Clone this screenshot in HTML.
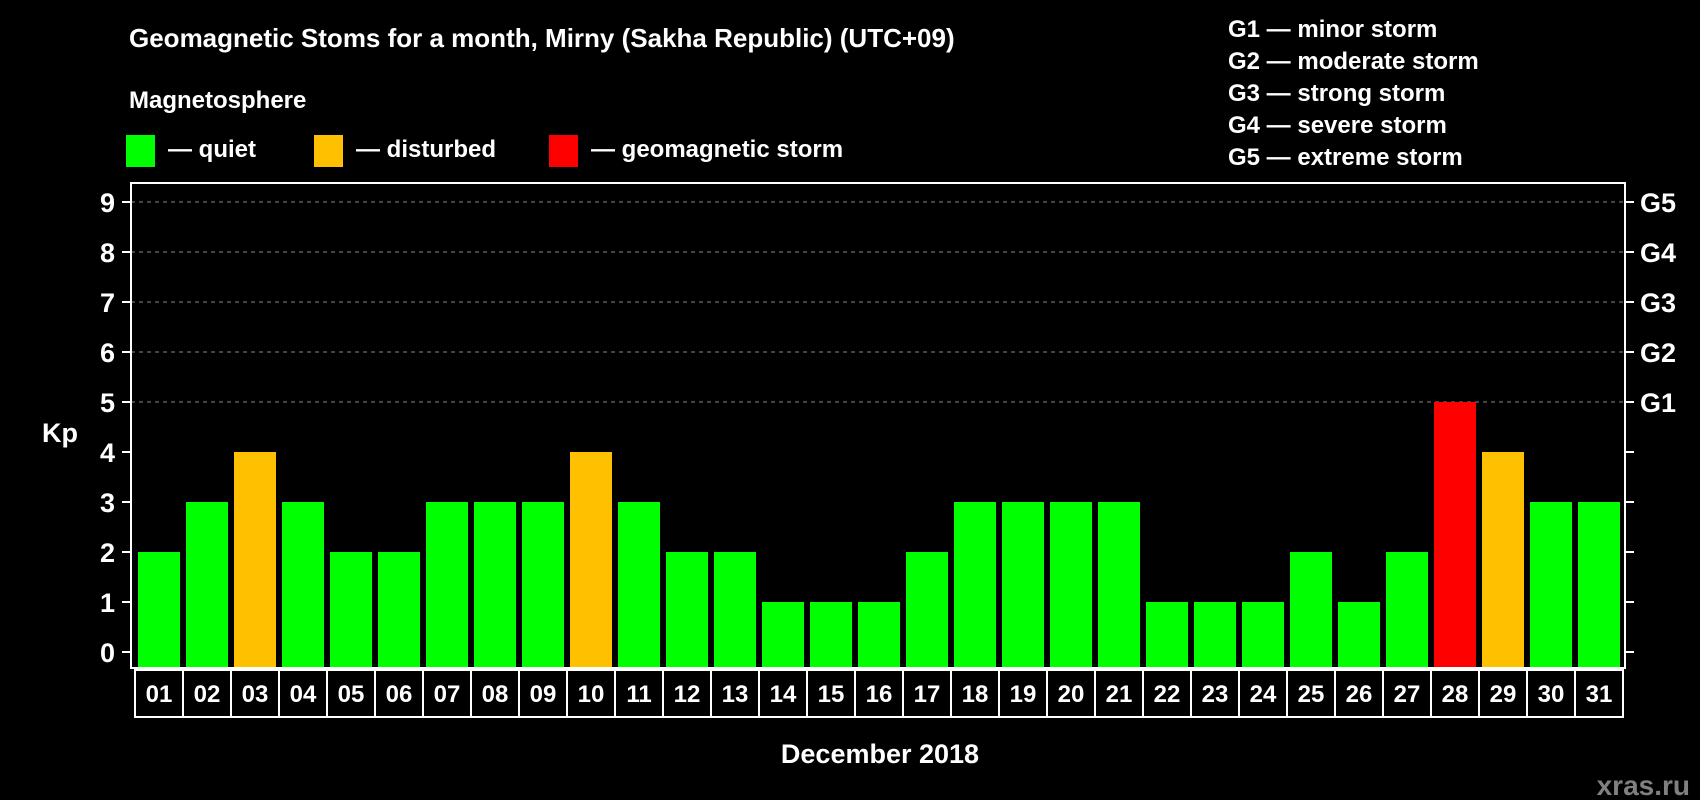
<!DOCTYPE html>
<html><head><meta charset="utf-8"><style>
html,body{margin:0;padding:0;background:#000;}
svg{display:block;font-family:"Liberation Sans",Arial,sans-serif;font-weight:bold;}
</style></head><body>
<svg width="1700" height="800" viewBox="0 0 1700 800">
<rect width="1700" height="800" fill="#000"/>
<text x="129" y="47" fill="#fff" font-size="26">Geomagnetic Stoms for a month, Mirny (Sakha Republic) (UTC+09)</text>
<text x="129" y="108" fill="#fff" font-size="24">Magnetosphere</text>
<g><rect x="126" y="135" width="29" height="32" fill="#00ff00"/><text x="168" y="157" fill="#fff" font-size="24">— quiet</text></g>
<g><rect x="314" y="135" width="29" height="32" fill="#ffc000"/><text x="356" y="157" fill="#fff" font-size="24">— disturbed</text></g>
<g><rect x="549" y="135" width="29" height="32" fill="#ff0000"/><text x="591" y="157" fill="#fff" font-size="24">— geomagnetic storm</text></g>
<g fill="#fff" font-size="24">
<text x="1228" y="37">G1 — minor storm</text>
<text x="1228" y="69">G2 — moderate storm</text>
<text x="1228" y="101">G3 — strong storm</text>
<text x="1228" y="133">G4 — severe storm</text>
<text x="1228" y="165">G5 — extreme storm</text>
</g>
<text x="42" y="442" fill="#fff" font-size="27">Kp</text>
<text x="880" y="763" fill="#fff" font-size="27" text-anchor="middle">December 2018</text>
<text x="1690" y="795" fill="#808080" font-size="28" text-anchor="end">xras.ru</text>
<g id="plot"></g>
</svg>
<script>
const days=["01","02","03","04","05","06","07","08","09","10","11","12","13","14","15","16","17","18","19","20","21","22","23","24","25","26","27","28","29","30","31"];
const kp=[2,3,4,3,2,2,3,3,3,4,3,2,2,1,1,1,2,3,3,3,3,1,1,1,2,1,2,5,4,3,3];
const yTicks=[0,1,2,3,4,5,6,7,8,9];
const gLabels=["","","","","","G1","G2","G3","G4","G5"];
const NS="http://www.w3.org/2000/svg";
const g=document.getElementById('plot');
const L=131,R=1625,T=183,B=668,y0=652,unit=50,colX0=135,colW=48;
const y=v=>y0-v*unit;
const x=i=>colX0+i*colW;
function mk(t,a,p){const e=document.createElementNS(NS,t);for(const k in a)e.setAttribute(k,a[k]);(p||g).appendChild(e);return e;}
// grid
yTicks.forEach(v=>{
 if(v>=5){const l=mk('line',{x1:L,x2:R,y1:y(v),y2:y(v),stroke:'#888','stroke-dasharray':'4,4','stroke-width':1});
 
 }
 const t1=mk('line',{x1:L-9,x2:L,y1:y(v),y2:y(v),stroke:'#fff','stroke-width':2});
 
 
 const t2=mk('line',{x1:R,x2:R+9,y1:y(v),y2:y(v),stroke:'#fff','stroke-width':2});
 
 
 const lb=mk('text',{x:L-16,y:y(v)+10,fill:'#fff','font-size':27,'text-anchor':'end'});lb.textContent=v;
 
 
 if(gLabels[v]){const gl=mk('text',{x:R+15,y:y(v)+10,fill:'#fff','font-size':27});gl.textContent=gLabels[v];
 
 }
});
// bars
kp.forEach((v,i)=>{
 const c=v>=5?'#ff0000':(v>=4?'#ffc000':'#00ff00');
 const b=mk('rect',{x:x(i)+3,y:y(v),width:colW-6,height:B-y(v),fill:c});
 
 
 const bx=mk('rect',{x:x(i),y:B+2,width:colW,height:47,fill:'none',stroke:'#fff','stroke-width':2});
 
 
 const t=mk('text',{x:x(i)+colW/2,y:B+34,fill:'#fff','font-size':24,'text-anchor':'middle'});t.textContent=days[i];
 
 
});
const fr=mk('rect',{x:L,y:T,width:R-L,height:B-T,fill:'none',stroke:'#fff','stroke-width':2});


</script>
</body></html>
